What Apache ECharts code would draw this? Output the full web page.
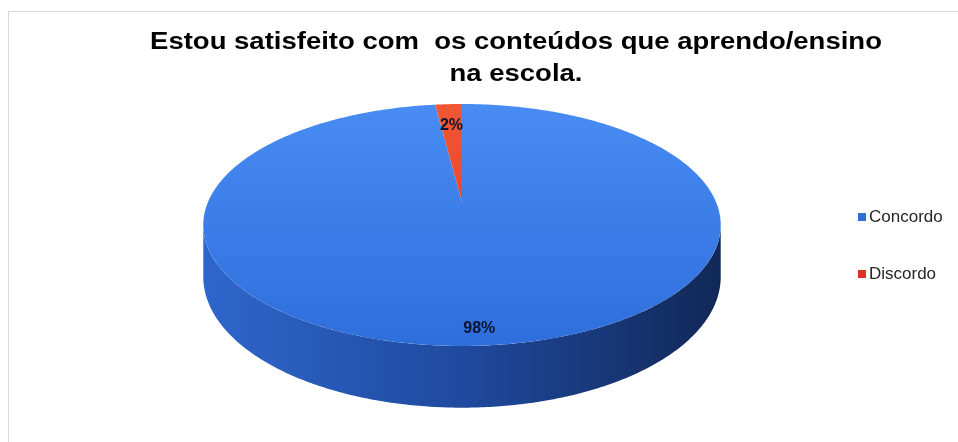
<!DOCTYPE html>
<html>
<head>
<meta charset="utf-8">
<script src="https://cdn.jsdelivr.net/npm/echarts@6/dist/echarts.min.js"></script>
<style>
  html, body { margin: 0; padding: 0; background: #ffffff; }
  #chart { width: 958px; height: 442px; }
</style>
</head>
<body>
<div id="chart"></div>
<script>
// Survey answers and their shares (percent)
const categories = ['Concordo', 'Discordo'];
const values = [98, 2];
const titleLines = ['Estou satisfeito com  os conteúdos que aprendo/ensino', 'na escola.'];

// Slice colours: [top face light, top face dark, wall light, wall dark]
const palettes = [
  ['#4a8ef5', '#2e6edb', '#2f66cc', '#112857'],
  ['#f35a34', '#dd3322', '#c02a1c', '#6a140c']
];

// Projection of the tilted disc (perspective seen from the front)
const disc = { cx: 462, cy: 202, rx: 254, ry: 116.6, k: 0.19, depth: 50 };
// Radial position of each percentage label (fraction of the radius)
const labelRadius = [0.9, 0.75];

function project(theta, f, h) {
  const X = f * Math.sin(theta);
  const Z = f * Math.cos(theta);
  const s = 1 / (1 + disc.k * Z);
  return [disc.cx + disc.rx * X * s, disc.cy + (-disc.ry * Z + h) * s];
}

const total = values.reduce((a, b) => a + b, 0);
const starts = [];
let acc = 0;
values.forEach(v => { starts.push(acc / total * Math.PI * 2); acc += v; });

// Front part of the rim that faces the viewer
const rimFrom = Math.acos(-disc.k);
const rimTo = Math.PI * 2 - rimFrom;

function arcPoints(a0, a1, f, h) {
  const pts = [];
  const n = Math.max(2, Math.ceil(Math.abs(a1 - a0) / 0.01));
  for (let i = 0; i <= n; i++) pts.push(project(a0 + (a1 - a0) * i / n, f, h));
  return pts;
}

function renderSlice(idx) {
  return function (params, api) {
    const v = api.value(0);
    const a0 = starts[idx];
    const a1 = a0 + v / total * Math.PI * 2;
    const pal = palettes[idx];
    const children = [];

    // visible outer wall
    const w0 = Math.max(a0, rimFrom), w1 = Math.min(a1, rimTo);
    if (w1 > w0) {
      const top = arcPoints(w0, w1, 1, 0);
      const bottom = arcPoints(w1, w0, 1, disc.depth);
      children.push({
        type: 'polygon',
        z2: 0,
        shape: { points: top.concat(bottom) },
        style: {
          fill: new echarts.graphic.LinearGradient(disc.cx - disc.rx * 1.02, 0, disc.cx + disc.rx * 1.02, 0, [
            { offset: 0, color: pal[2] },
            { offset: 0.5, color: '#1f4a9e' },
            { offset: 1, color: pal[3] }
          ], true)
        }
      });
    }

    // top face
    const face = [project(0, 0, 0)].concat(arcPoints(a0, a1, 1, 0));
    children.push({
      type: 'polygon',
      z2: 10,
      shape: { points: face },
      style: {
        fill: new echarts.graphic.LinearGradient(0, disc.cy - disc.ry, 0, disc.cy + disc.ry * 1.25, [
          { offset: 0, color: pal[0] },
          { offset: 1, color: pal[1] }
        ], true)
      }
    });

    // percentage label
    const mid = (a0 + a1) / 2;
    const lp = project(mid, labelRadius[idx], 0);
    children.push({
      type: 'text',
      z2: 20,
      x: lp[0],
      y: lp[1],
      style: {
        text: Math.round(v / total * 100) + '%',
        fill: '#0b1430',
        font: 'bold 16px "Liberation Sans", Arial, sans-serif',
        align: 'center',
        verticalAlign: 'middle'
      }
    });

    return { type: 'group', children: children };
  };
}

const chart = echarts.init(document.getElementById('chart'), null, { renderer: 'canvas' });

const titleFont = 'bold 27.5px "Liberation Sans", Arial, sans-serif';

chart.setOption({
  backgroundColor: '#ffffff',
  animation: false,
  legend: {
    orient: 'vertical',
    left: 853,
    top: 203,
    itemGap: 39,
    itemWidth: 8,
    itemHeight: 8,
    icon: 'rect',
    textStyle: {
      fontFamily: '"Liberation Sans", Arial, sans-serif',
      fontSize: 17,
      lineHeight: 18,
      color: '#262626',
      padding: [0, 0, 0, -2]
    },
    data: categories
  },
  graphic: [
    { type: 'line', silent: true, shape: { x1: 8.5, y1: 11.5, x2: 958, y2: 11.5 }, style: { stroke: '#d9d9d9', lineWidth: 1 } },
    { type: 'line', silent: true, shape: { x1: 8.5, y1: 11.5, x2: 8.5, y2: 442 }, style: { stroke: '#d9d9d9', lineWidth: 1 } },
    // chart title, two lines
    {
      type: 'text', x: 516, y: 42, scaleY: 0.87, silent: true,
      style: { text: titleLines[0], font: titleFont, fill: '#000000', align: 'center', verticalAlign: 'middle' }
    },
    {
      type: 'text', x: 516, y: 74, scaleY: 0.87, silent: true,
      style: { text: titleLines[1], font: titleFont, fill: '#000000', align: 'center', verticalAlign: 'middle' }
    }
  ],
  series: categories.map((name, i) => ({
    type: 'custom',
    name: name,
    coordinateSystem: 'none',
    itemStyle: { color: palettes[i][1] },
    renderItem: renderSlice(i),
    data: [[values[i]]]
  }))
});
</script>
</body>
</html>
